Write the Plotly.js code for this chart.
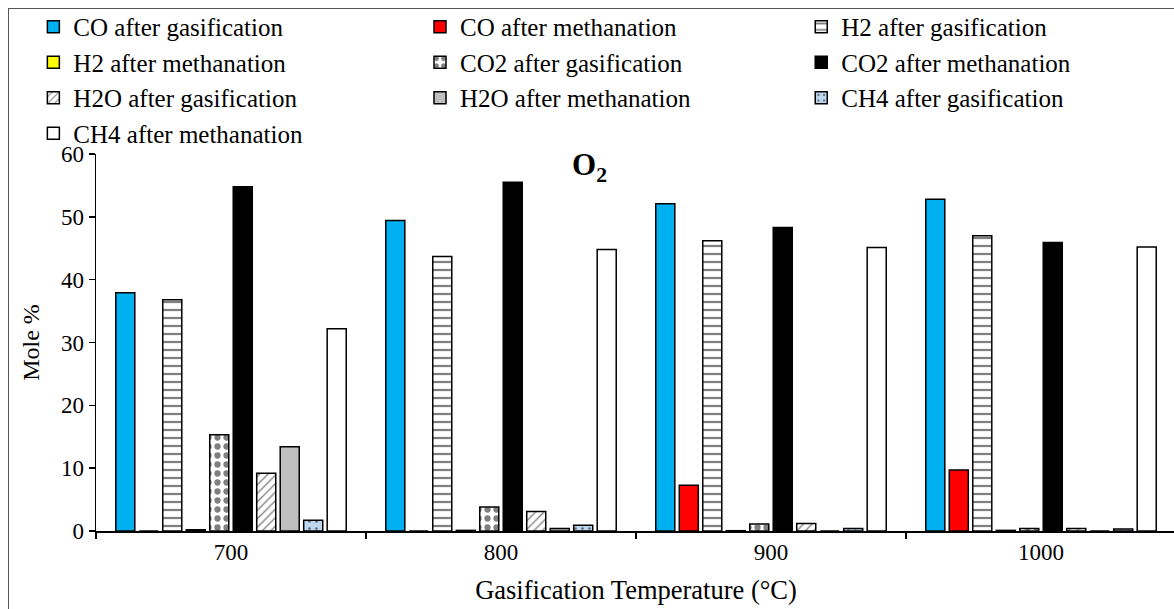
<!DOCTYPE html>
<html>
<head>
<meta charset="utf-8">
<script src="https://cdn.plot.ly/plotly-3.0.1.min.js"></script>
<style>
  html, body { margin: 0; padding: 0; background: #fff; overflow: hidden; }
  #wrap { position: relative; width: 1174px; height: 609px; overflow: hidden; }
  #chart { position: absolute; left: 0; top: 0; width: 1178px; height: 609px; }
  #frame { position: absolute; left: 8px; top: 8px; width: 1400px; height: 900px;
           border: 1px solid #555; pointer-events: none; box-sizing: border-box; }
</style>
</head>
<body>
<div id="wrap">
  <div id="chart"></div>
  <div id="frame"></div>
</div>
<script>
// Gasification temperatures (°C)
const temperatures = ['700', '800', '900', '1000'];

// Mole % of each species after gasification and after methanation
const coGasification   = [37.9, 49.4, 52.1, 52.8];
const coMethanation    = [0.0, 0.0, 7.3, 9.7];
const h2Gasification   = [36.8, 43.7, 46.2, 47.0];
const h2Methanation    = [0.2, 0.1, 0.05, 0.1];
const co2Gasification  = [15.3, 3.8, 1.1, 0.4];
const co2Methanation   = [54.8, 55.5, 48.3, 45.9];
const h2oGasification  = [9.2, 3.1, 1.2, 0.4];
const h2oMethanation   = [13.4, 0.4, 0.0, 0.0];
const ch4Gasification  = [1.7, 0.9, 0.4, 0.3];
const ch4Methanation   = [32.2, 44.8, 45.1, 45.2];

const yTicks = [0, 10, 20, 30, 40, 50, 60];

const FONT = 'Liberation Serif, Times New Roman, serif';
const edge = { color: '#000', width: 1.5 };

function series(name, values, fill, pattern, legend) {
  const marker = { color: fill, line: edge };
  if (pattern) marker.pattern = pattern;
  return {
    type: 'bar', name: name, x: temperatures, y: values,
    marker: marker, legend: legend, hoverinfo: 'skip'
  };
}

const traces = [
  series('CO after gasification', coGasification, '#00b0f0', null, 'legend'),
  series('CO after methanation', coMethanation, '#ff0000', null, 'legend2'),
  series('H2 after gasification', h2Gasification, '#ffffff',
         { shape: '-', fgcolor: '#000', bgcolor: '#fff', size: 8, solidity: 0.28, fillmode: 'overlay' }, 'legend3'),
  series('H2 after methanation', h2Methanation, '#ffff00', null, 'legend'),
  series('CO2 after gasification', co2Gasification, '#ffffff',
         { shape: '.', fgcolor: '#000', bgcolor: '#fff', size: 9, solidity: 0.38, fillmode: 'overlay' }, 'legend2'),
  series('CO2 after methanation', co2Methanation, '#000000', null, 'legend3'),
  series('H2O after gasification', h2oGasification, '#ffffff',
         { shape: '/', fgcolor: '#000', bgcolor: '#fff', size: 6, solidity: 0.22, fillmode: 'overlay' }, 'legend'),
  series('H2O after methanation', h2oMethanation, '#bfbfbf', null, 'legend2'),
  series('CH4 after gasification', ch4Gasification, '#bdd7ee',
         { shape: '.', fgcolor: '#000', bgcolor: '#bdd7ee', size: 7, solidity: 0.12, fillmode: 'overlay' }, 'legend3'),
  series('CH4 after methanation', ch4Methanation, '#ffffff', null, 'legend')
];

function legendAt(x) {
  return {
    x: x, y: 1.398, xanchor: 'left', yanchor: 'top',
    orientation: 'v', bgcolor: 'rgba(0,0,0,0)', borderwidth: 0,
    traceorder: 'normal', itemwidth: 30,
    font: { family: FONT, size: 25, color: '#000' }
  };
}

const layout = {
  width: 1178, height: 609,
  margin: { l: 96, r: 2, t: 154, b: 78 },
  paper_bgcolor: '#fff', plot_bgcolor: '#fff',
  barmode: 'group', bargap: 0.13, bargroupgap: 0.19,
  font: { family: FONT, color: '#000' },
  showlegend: true,
  legend: legendAt(-0.058),
  legend2: legendAt(0.3),
  legend3: legendAt(0.653),
  xaxis: {
    type: 'category',
    showline: true, linecolor: '#000', linewidth: 1.5,
    ticks: 'outside', tickson: 'boundaries', ticklen: 6, tickcolor: '#000', tickwidth: 1.5,
    tickfont: { family: FONT, size: 23, color: '#000' },
    showgrid: false, zeroline: false,
    title: { text: 'Gasification Temperature (°C)', font: { family: FONT, size: 26.5, color: '#000' }, standoff: 16 }
  },
  yaxis: {
    range: [0, 60], tickvals: yTicks, ticktext: yTicks.map(String),
    showline: true, linecolor: '#000', linewidth: 1.5,
    ticks: 'outside', ticklen: 6, tickcolor: '#000', tickwidth: 1.5,
    tickfont: { family: FONT, size: 23, color: '#000' },
    showgrid: false, zeroline: false,
    title: { text: 'Mole %', font: { family: FONT, size: 24, color: '#000' }, standoff: 14 }
  },
  annotations: [{
    text: '<b>O<sub>2</sub></b>', xref: 'paper', yref: 'paper',
    x: 0.457, y: 0.965, xanchor: 'center', yanchor: 'middle', showarrow: false,
    font: { family: FONT, size: 31, color: '#000' }
  }]
};

Plotly.newPlot('chart', traces, layout, { displayModeBar: false, staticPlot: true });
</script>
</body>
</html>
